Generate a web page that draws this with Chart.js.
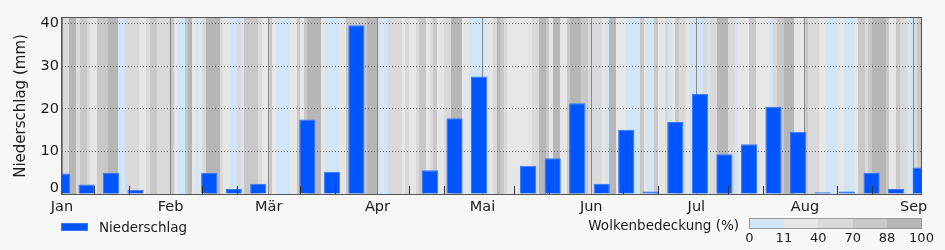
<!DOCTYPE html>
<html lang="de">
<head>
<meta charset="utf-8">
<title>Niederschlag und Wolkenbedeckung</title>
<script src="https://cdn.jsdelivr.net/npm/chart.js@4.4.1/dist/chart.umd.min.js"></script>
<style>
  html, body { margin: 0; padding: 0; background: #f7f7f7; }
  body { font-family: 'DejaVu Sans', sans-serif; color: #1a1a1a; }
  #wrap { position: relative; width: 945px; height: 250px; overflow: hidden; }
  #chart { position: absolute; left: 0; top: 0; }
  #legendRain { position: absolute; left: 61px; top: 219px; height: 16px; display: flex; align-items: center; font-size: 13.5px; }
  #legendRain .swatch { width: 27px; height: 8px; box-sizing: border-box; background: #0055ff; border: 1px solid #3377ff; margin-right: 11px; }
  #cloudTitle { position: absolute; right: 206px; top: 217px; font-size: 13.5px; line-height: 16px; }
  #colorbar { position: absolute; left: 749px; top: 218px; width: 173px; height: 11px; box-sizing: border-box; border: 1px solid #9a9a9a; display: flex; }
  #colorbar div { flex: 1; }
  .cbLabel { position: absolute; top: 230px; font-size: 13px; transform: translateX(-50%); white-space: nowrap; }
</style>
</head>
<body>
<div id="wrap">
  <canvas id="chart" width="945" height="250"></canvas>
  <div id="legendRain"><span class="swatch"></span><span>Niederschlag</span></div>
  <div id="cloudTitle">Wolkenbedeckung (%)</div>
  <div id="colorbar"></div>
</div>
<script>
// Monate (Tag ab 1. Januar)
const monthStarts = [0, 31, 59, 90, 120, 151, 181, 212, 243];
const monthLabels = ['Jan', 'Feb', 'Mär', 'Apr', 'Mai', 'Jun', 'Jul', 'Aug', 'Sep'];
const yTicks = [0, 10, 20, 30, 40];

// Wochensummen Niederschlag (mm), Balkenmitte in Tagen ab 1. Januar
const weekDays = [0, 7, 14, 21, 28, 35, 42, 49, 56, 63, 70, 77, 84, 91, 98, 105, 112, 119,
                  126, 133, 140, 147, 154, 161, 168, 175, 182, 189, 196, 203, 210, 217, 224, 231, 238, 245];
const niederschlag = [4.8, 2.2, 5.0, 1.0, 0, 0, 5.0, 1.2, 2.4, 0, 17.5, 5.2, 39.6, 0, 0, 5.6, 17.8, 27.6,
                      0, 6.6, 8.4, 21.3, 2.4, 15.1, 0.6, 16.9, 23.5, 9.3, 11.7, 20.5, 14.6, 0.4, 0.6, 5.0, 1.2, 6.2];

// Tägliche Wolkenbedeckung (%), Tag 0 = 1. Januar
const wolken = [
  55, 55, 94, 94, 55, 80, 80, 55, 25, 25,
  80, 80, 80, 94, 94, 94, 5, 5, 55, 55,
  55, 55, 25, 25, 55, 80, 80, 55, 55, 55,
  55, 80, 25, 5, 5, 80, 94, 25, 5, 25,
  55, 94, 94, 94, 94, 55, 25, 25, 5, 5,
  55, 5, 80, 80, 80, 80, 55, 25, 25, 80,
  25, 5, 5, 5, 5, 25, 25, 80, 25, 80,
  94, 94, 94, 94, 25, 5, 5, 5, 5, 25,
  25, 80, 80, 80, 80, 80, 80, 94, 94, 94,
  5, 25, 5, 55, 55, 55, 55, 25, 55, 25,
  25, 55, 80, 80, 25, 55, 80, 25, 25, 55,
  55, 94, 94, 94, 25, 25, 5, 5, 5, 5,
  5, 25, 25, 55, 94, 80, 55, 25, 25, 25,
  25, 25, 25, 25, 55, 55, 94, 94, 80, 25,
  94, 94, 25, 25, 80, 94, 94, 94, 80, 80,
  55, 55, 55, 55, 25, 5, 94, 94, 25, 25,
  25, 5, 5, 5, 5, 80, 25, 5, 5, 80,
  25, 25, 55, 5, 25, 80, 55, 55, 25, 5,
  5, 5, 5, 55, 5, 55, 55, 94, 94, 94,
  55, 55, 5, 25, 25, 25, 80, 80, 25, 25,
  25, 25, 5, 55, 80, 80, 94, 94, 94, 25,
  25, 25, 80, 55, 55, 55, 25, 25, 5, 5,
  5, 25, 25, 5, 5, 5, 25, 80, 80, 55,
  80, 94, 94, 94, 94, 80, 25, 25, 80, 55,
  55, 5, 5, 55, 80, 55
];

// Farbklassen der Wolkenbedeckung
const cloudBins = [0, 11, 40, 70, 88, 100];
const cloudColors = ['#d0e5f6', '#e6e6e6', '#d9d9d9', '#c8c8c8', '#b6b6b6'];

const fontFamily = "'DejaVu Sans', sans-serif";
const textColor = '#1a1a1a';

function wolkenFarbe(w) {
    for (let i = 1; i < cloudBins.length - 1; i++) {
        if (w < cloudBins[i]) return cloudColors[i - 1];
    }
    return cloudColors[cloudColors.length - 1];
}

// Farbbalken der Legende
const colorbar = document.getElementById('colorbar');
cloudColors.forEach((c) => {
    const seg = document.createElement('div');
    seg.style.background = c;
    colorbar.appendChild(seg);
});
const wrap = document.getElementById('wrap');
cloudBins.forEach((b, i) => {
    const lab = document.createElement('span');
    lab.className = 'cbLabel';
    lab.textContent = b;
    lab.style.left = (749.5 + i * 172 / (cloudBins.length - 1)) + 'px';
    wrap.appendChild(lab);
});

// Tagesstreifen hinter dem Diagramm
const hintergrund = {
    id: 'hintergrund',
    beforeDraw(chart) {
        const { ctx, chartArea: a, scales: { x } } = chart;
        ctx.save();
        ctx.beginPath();
        ctx.rect(a.left, a.top, a.right - a.left, a.bottom - a.top);
        ctx.clip();
        wolken.forEach((w, d) => {
            const x0 = Math.round(x.getPixelForValue(d));
            const x1 = Math.round(x.getPixelForValue(d + 1));
            ctx.fillStyle = wolkenFarbe(w);
            ctx.fillRect(x0, a.top, x1 - x0, a.bottom - a.top);
        });
        ctx.restore();
    }
};

// Rahmen, kleine Striche am 10. und 20. und die Null der y-Achse
const rahmen = {
    id: 'rahmen',
    afterDraw(chart) {
        const { ctx, chartArea: a, scales: { x, y } } = chart;
        ctx.save();
        ctx.strokeStyle = '#333';
        ctx.lineWidth = 1;
        ctx.beginPath();
        monthStarts.slice(0, -1).forEach((m) => {
            [m + 9, m + 19].forEach((d) => {
                const px = Math.round(x.getPixelForValue(d)) + 0.5;
                ctx.moveTo(px, a.bottom);
                ctx.lineTo(px, a.bottom - 8);
            });
        });
        ctx.stroke();

        ctx.strokeStyle = '#555';
        ctx.strokeRect(a.left - 0.5, a.top - 0.5, a.right - a.left + 1, a.bottom - a.top + 1);

        ctx.fillStyle = textColor;
        ctx.font = '14.5px ' + fontFamily;
        ctx.textAlign = 'right';
        ctx.textBaseline = 'alphabetic';
        ctx.fillText(String(yTicks[0]), y.right - 3, y.getPixelForValue(yTicks[0]) - 2);
        ctx.restore();
    }
};

Chart.defaults.font.family = fontFamily;
Chart.defaults.color = textColor;

new Chart(document.getElementById('chart'), {
    type: 'bar',
    data: {
        datasets: [{
            label: 'Niederschlag',
            data: weekDays.map((d, i) => ({ x: d, y: niederschlag[i] })),
            backgroundColor: '#0055ff',
            borderColor: '#3377ff',
            borderWidth: 1,
            categoryPercentage: 0.66,
            barPercentage: 1,
            clip: 0
        }]
    },
    options: {
        responsive: false,
        animation: false,
        layout: { padding: { left: 0, top: 18, right: 24, bottom: 0 } },
        plugins: {
            legend: { display: false },
            tooltip: { enabled: false }
        },
        scales: {
            x: {
                type: 'linear',
                min: 0,
                max: 245.1,
                offset: false,
                afterFit: (s) => { s.height = 56; },
                afterBuildTicks: (s) => { s.ticks = monthStarts.map((v) => ({ value: v })); },
                grid: { offset: false, color: 'rgba(90, 90, 90, 0.65)', lineWidth: 1, drawTicks: false },
                border: { display: false },
                ticks: {
                    autoSkip: false,
                    maxRotation: 0,
                    padding: 5,
                    font: { size: 14.5 },
                    callback: (v) => monthLabels[monthStarts.indexOf(v)]
                }
            },
            y: {
                min: 0,
                max: 41.3,
                afterFit: (s) => { s.width = 62; },
                afterBuildTicks: (s) => { s.ticks = yTicks.map((v) => ({ value: v })); },
                grid: { color: '#666', lineWidth: 1, drawTicks: false },
                border: { display: false, dash: [1, 2] },
                ticks: {
                    padding: 3,
                    font: { size: 14.5 },
                    callback: (v) => (v === yTicks[0] ? '' : String(v))
                },
                title: {
                    display: true,
                    text: 'Niederschlag (mm)',
                    font: { size: 15 },
                    padding: { top: 12, bottom: 0 }
                }
            }
        }
    },
    plugins: [hintergrund, rahmen]
});
</script>
</body>
</html>
